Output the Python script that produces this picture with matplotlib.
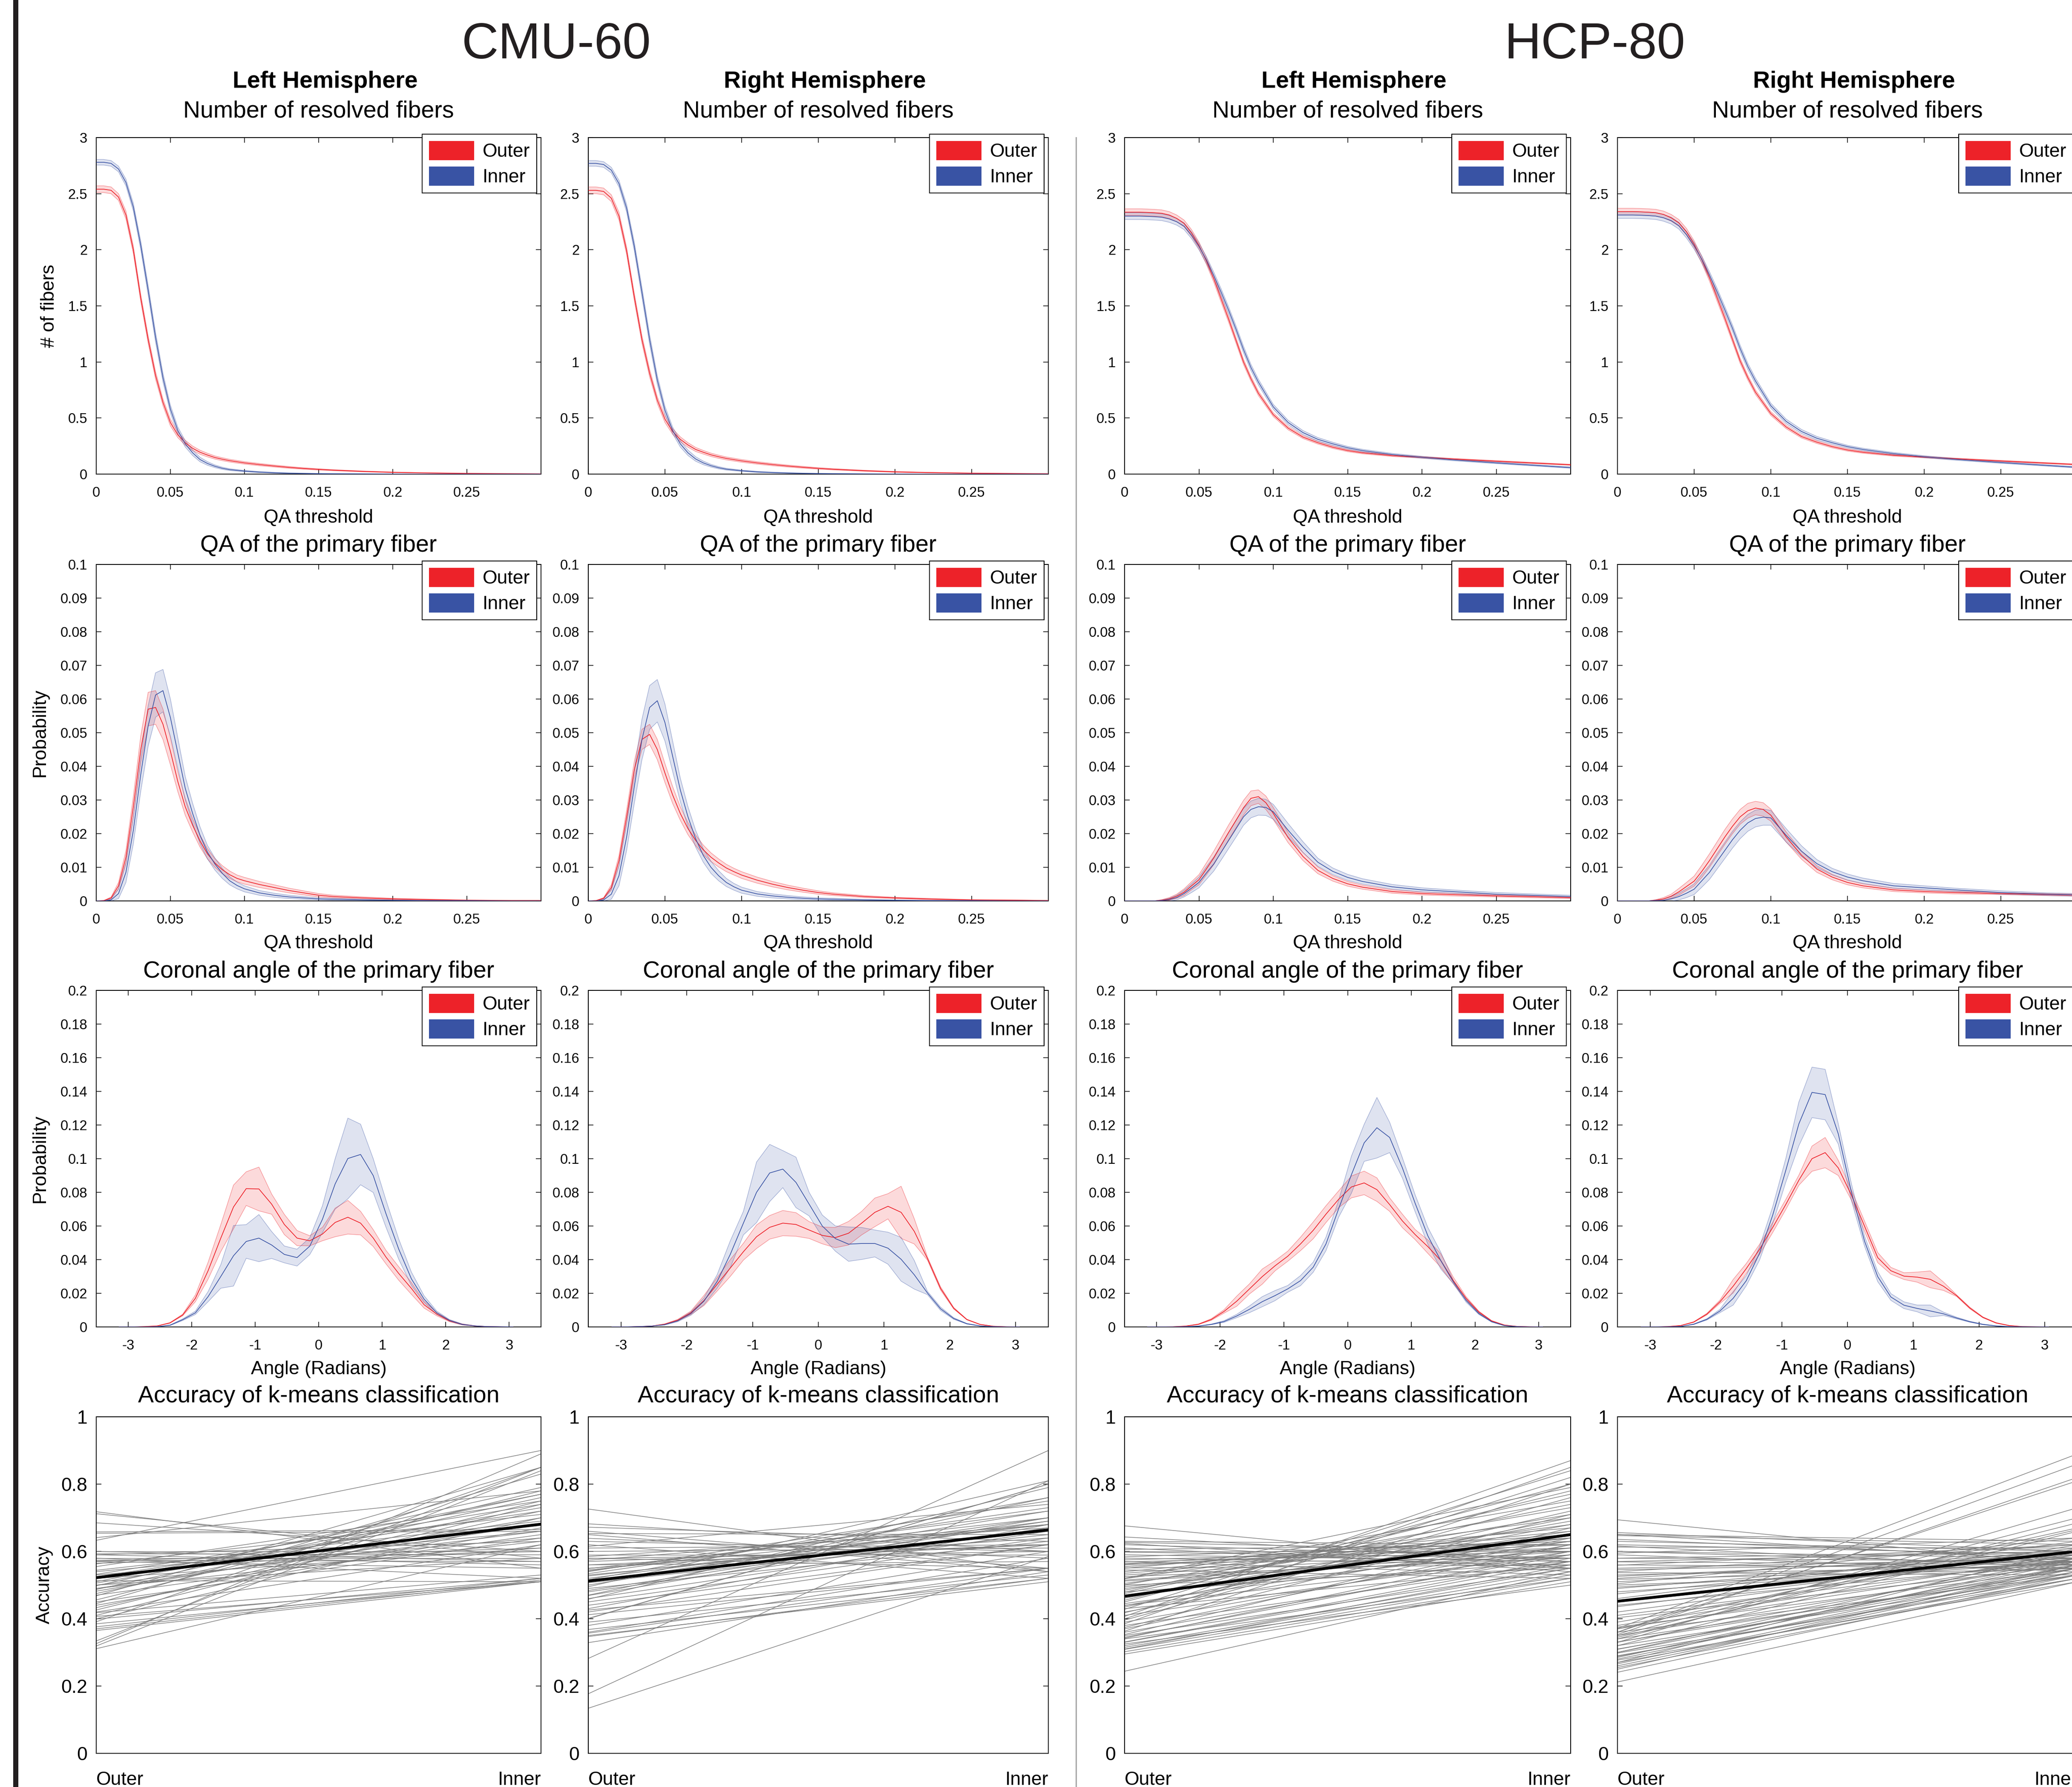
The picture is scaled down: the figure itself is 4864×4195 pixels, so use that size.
import numpy as np
import matplotlib
matplotlib.use('Agg')
import matplotlib.pyplot as plt
from matplotlib.patches import Patch, Rectangle
from matplotlib.lines import Line2D

plt.rcParams['font.family'] = ['Liberation Sans', 'DejaVu Sans']

# ======================= DATA =======================
group_titles = ['CMU-60', 'HCP-80']
hemisphere_titles = ['Left Hemisphere', 'Right Hemisphere', 'Left Hemisphere', 'Right Hemisphere']
legend_labels = ['Outer', 'Inner']
row_titles = ['Number of resolved fibers', 'QA of the primary fiber',
              'Coronal angle of the primary fiber', 'Accuracy of k-means classification']
x_labels = ['QA threshold', 'QA threshold', 'Angle (Radians)', None]
y_labels = ['# of fibers', 'Probability', 'Probability', 'Accuracy']
acc_categories = ['Outer', 'Inner']

qa_ticks = [0, 0.05, 0.1, 0.15, 0.2, 0.25]
angle_ticks = [-3, -2, -1, 0, 1, 2, 3]
nf_yticks = [0, 0.5, 1, 1.5, 2, 2.5, 3]
qa_yticks = [0, 0.01, 0.02, 0.03, 0.04, 0.05, 0.06, 0.07, 0.08, 0.09, 0.1]
ang_yticks = [0, 0.02, 0.04, 0.06, 0.08, 0.1, 0.12, 0.14, 0.16, 0.18, 0.2]
acc_yticks = [0, 0.2, 0.4, 0.6, 0.8, 1]

# ---- Row 1: number of resolved fibers vs QA threshold ----
nf_x = [0, 0.005, 0.01, 0.015, 0.02, 0.025, 0.03, 0.035, 0.04, 0.045, 0.05, 0.055, 0.06, 0.065,
        0.07, 0.075, 0.08, 0.085, 0.09, 0.1, 0.11, 0.12, 0.13, 0.14, 0.15, 0.16, 0.18, 0.2, 0.22, 0.25, 0.3]

nf_cmu_L_outer = [2.54, 2.54, 2.53, 2.47, 2.31, 2.0, 1.57, 1.2, 0.88, 0.64, 0.46, 0.35, 0.28, 0.23,
                  0.195, 0.17, 0.148, 0.133, 0.12, 0.10, 0.085, 0.072, 0.06, 0.05, 0.042, 0.035, 0.024, 0.016, 0.011, 0.006, 0.002]
nf_cmu_L_outer_sem = [0.03, 0.03, 0.03, 0.03, 0.035, 0.035, 0.035, 0.035, 0.035, 0.03, 0.03, 0.025, 0.022, 0.02,
                      0.018, 0.016, 0.014, 0.013, 0.012, 0.011, 0.01, 0.009, 0.008, 0.007, 0.006, 0.005, 0.004, 0.003, 0.002, 0.002, 0.001]
nf_cmu_L_inner = [2.78, 2.78, 2.77, 2.72, 2.6, 2.38, 2.04, 1.64, 1.22, 0.86, 0.58, 0.39, 0.27, 0.19,
                  0.13, 0.095, 0.07, 0.052, 0.04, 0.027, 0.018, 0.012, 0.008, 0.006, 0.004, 0.003, 0.002, 0.001, 0.0005, 0.0002, 0.0]
nf_cmu_L_inner_sem = [0.025, 0.025, 0.025, 0.025, 0.03, 0.035, 0.04, 0.045, 0.045, 0.04, 0.035, 0.03, 0.028, 0.024,
                      0.02, 0.016, 0.012, 0.01, 0.008, 0.006, 0.005, 0.004, 0.003, 0.002, 0.002, 0.001, 0.001, 0.0005, 0.0003, 0.0002, 0.0]

nf_cmu_R_outer = [2.53, 2.53, 2.52, 2.46, 2.3, 1.99, 1.58, 1.2, 0.9, 0.66, 0.49, 0.38, 0.31, 0.26,
                  0.22, 0.195, 0.172, 0.155, 0.14, 0.118, 0.1, 0.085, 0.072, 0.061, 0.051, 0.043, 0.03, 0.02, 0.014, 0.008, 0.003]
nf_cmu_R_outer_sem = [0.03, 0.03, 0.03, 0.03, 0.035, 0.035, 0.035, 0.035, 0.035, 0.03, 0.03, 0.025, 0.022, 0.02,
                      0.018, 0.016, 0.015, 0.014, 0.013, 0.012, 0.011, 0.01, 0.009, 0.008, 0.007, 0.006, 0.005, 0.004, 0.003, 0.002, 0.001]
nf_cmu_R_inner = [2.77, 2.77, 2.76, 2.71, 2.59, 2.37, 2.03, 1.62, 1.2, 0.84, 0.57, 0.39, 0.27, 0.19,
                  0.135, 0.1, 0.075, 0.057, 0.044, 0.03, 0.02, 0.014, 0.01, 0.007, 0.005, 0.004, 0.002, 0.001, 0.0005, 0.0002, 0.0]
nf_cmu_R_inner_sem = [0.025, 0.025, 0.025, 0.025, 0.03, 0.035, 0.04, 0.045, 0.045, 0.04, 0.035, 0.03, 0.028, 0.024,
                      0.02, 0.016, 0.012, 0.01, 0.008, 0.006, 0.005, 0.004, 0.003, 0.002, 0.002, 0.001, 0.001, 0.0005, 0.0003, 0.0002, 0.0]

nf_hcp_L_outer = [2.335, 2.335, 2.335, 2.333, 2.33, 2.325, 2.31, 2.28, 2.235, 2.15, 2.04, 1.9, 1.74, 1.56,
                  1.38, 1.19, 1.0, 0.85, 0.72, 0.53, 0.41, 0.33, 0.28, 0.24, 0.21, 0.19, 0.165, 0.15, 0.135, 0.115, 0.083]
nf_hcp_L_outer_sem = [0.03, 0.03, 0.03, 0.03, 0.03, 0.03, 0.03, 0.03, 0.03, 0.03, 0.03, 0.03, 0.03, 0.03,
                      0.028, 0.026, 0.024, 0.022, 0.02, 0.017, 0.015, 0.013, 0.012, 0.011, 0.01, 0.009, 0.008, 0.007, 0.006, 0.006, 0.005]
nf_hcp_L_inner = [2.3, 2.3, 2.3, 2.298, 2.295, 2.29, 2.275, 2.25, 2.21, 2.13, 2.03, 1.91, 1.77, 1.62,
                  1.46, 1.29, 1.11, 0.95, 0.82, 0.6, 0.46, 0.37, 0.31, 0.27, 0.235, 0.21, 0.175, 0.15, 0.128, 0.1, 0.058]
nf_hcp_L_inner_sem = [0.03, 0.03, 0.03, 0.03, 0.03, 0.03, 0.03, 0.03, 0.03, 0.03, 0.03, 0.03, 0.03, 0.03,
                      0.03, 0.03, 0.03, 0.028, 0.026, 0.022, 0.02, 0.018, 0.016, 0.014, 0.012, 0.011, 0.01, 0.009, 0.008, 0.007, 0.006]

nf_hcp_R_outer = [2.34, 2.34, 2.34, 2.338, 2.335, 2.33, 2.315, 2.285, 2.24, 2.16, 2.05, 1.91, 1.75, 1.57,
                  1.39, 1.2, 1.01, 0.86, 0.73, 0.54, 0.42, 0.335, 0.285, 0.245, 0.215, 0.195, 0.168, 0.152, 0.137, 0.117, 0.085]
nf_hcp_R_outer_sem = [0.03, 0.03, 0.03, 0.03, 0.03, 0.03, 0.03, 0.03, 0.03, 0.03, 0.03, 0.03, 0.03, 0.03,
                      0.028, 0.026, 0.024, 0.022, 0.02, 0.017, 0.015, 0.013, 0.012, 0.011, 0.01, 0.009, 0.008, 0.007, 0.006, 0.006, 0.005]
nf_hcp_R_inner = [2.31, 2.31, 2.31, 2.308, 2.305, 2.3, 2.285, 2.26, 2.215, 2.135, 2.035, 1.915, 1.775, 1.625,
                  1.465, 1.3, 1.12, 0.96, 0.83, 0.61, 0.47, 0.38, 0.32, 0.28, 0.245, 0.22, 0.183, 0.155, 0.132, 0.103, 0.06]
nf_hcp_R_inner_sem = [0.03, 0.03, 0.03, 0.03, 0.03, 0.03, 0.03, 0.03, 0.03, 0.03, 0.03, 0.03, 0.03, 0.03,
                      0.03, 0.03, 0.03, 0.028, 0.026, 0.022, 0.02, 0.018, 0.016, 0.014, 0.012, 0.011, 0.01, 0.009, 0.008, 0.007, 0.006]

# ---- Row 2: QA of the primary fiber ----
qa_x = [0, 0.005, 0.01, 0.015, 0.02, 0.025, 0.03, 0.035, 0.04, 0.045, 0.05, 0.055, 0.06, 0.065, 0.07,
        0.075, 0.08, 0.085, 0.09, 0.095, 0.1, 0.11, 0.12, 0.13, 0.14, 0.15, 0.16, 0.18, 0.2, 0.22, 0.25, 0.28, 0.3]

qa_cmu_L_outer = [0, 0.0001, 0.0009, 0.0045, 0.013, 0.028, 0.045, 0.057, 0.0575, 0.0525, 0.0445, 0.0355, 0.028, 0.0225, 0.0178,
                  0.014, 0.0113, 0.0093, 0.0078, 0.0067, 0.006, 0.0049, 0.004, 0.0031, 0.0024, 0.0017, 0.0013, 0.0009, 0.0006, 0.0004, 0.0002, 0.0001, 0.0001]
qa_cmu_L_outer_sem = [0, 0, 0.0003, 0.001, 0.002, 0.003, 0.004, 0.005, 0.005, 0.0045, 0.004, 0.003, 0.0025, 0.002, 0.0018,
                      0.0015, 0.0013, 0.0012, 0.0011, 0.001, 0.001, 0.0009, 0.0008, 0.0007, 0.0006, 0.0005, 0.0004, 0.0003, 0.0002, 0.0002, 0.0001, 0.0001, 0.0001]
qa_cmu_L_inner = [0, 0, 0.0003, 0.0022, 0.0085, 0.021, 0.0376, 0.052, 0.0612, 0.0625, 0.0545, 0.044, 0.0335, 0.026, 0.0195,
                  0.0145, 0.011, 0.0082, 0.006, 0.0046, 0.0036, 0.0024, 0.0017, 0.0012, 0.0009, 0.0006, 0.0005, 0.0003, 0.0002, 0.0001, 0.0001, 0, 0]
qa_cmu_L_inner_sem = [0, 0, 0.0003, 0.0015, 0.003, 0.004, 0.005, 0.006, 0.0066, 0.0063, 0.0055, 0.0045, 0.0035, 0.003, 0.0025,
                      0.002, 0.0018, 0.0015, 0.0012, 0.001, 0.0009, 0.0007, 0.0006, 0.0005, 0.0004, 0.0003, 0.0003, 0.0002, 0.0001, 0.0001, 0, 0, 0]

qa_cmu_R_outer = [0, 0.0001, 0.0008, 0.004, 0.012, 0.025, 0.039, 0.048, 0.0495, 0.045, 0.038, 0.0315, 0.026, 0.0215, 0.018,
                  0.0152, 0.013, 0.0113, 0.0098, 0.0087, 0.0077, 0.0062, 0.005, 0.004, 0.0032, 0.0025, 0.002, 0.0013, 0.0009, 0.0006, 0.0003, 0.0002, 0.0001]
qa_cmu_R_outer_sem = [0, 0, 0.0002, 0.0008, 0.0015, 0.002, 0.0025, 0.003, 0.003, 0.003, 0.0028, 0.0025, 0.002, 0.0018, 0.0016,
                      0.0014, 0.0013, 0.0012, 0.0011, 0.001, 0.001, 0.0009, 0.0008, 0.0007, 0.0006, 0.0005, 0.0004, 0.0003, 0.0002, 0.0002, 0.0001, 0.0001, 0.0001]
qa_cmu_R_inner = [0, 0, 0.0003, 0.002, 0.0075, 0.019, 0.034, 0.048, 0.0575, 0.0595, 0.053, 0.043, 0.033, 0.025, 0.0185,
                  0.0135, 0.01, 0.0075, 0.0055, 0.0042, 0.0032, 0.0021, 0.0015, 0.0011, 0.0008, 0.0006, 0.0005, 0.0003, 0.0002, 0.0001, 0.0001, 0, 0]
qa_cmu_R_inner_sem = [0, 0, 0.0003, 0.0015, 0.003, 0.004, 0.005, 0.006, 0.0065, 0.0063, 0.0055, 0.0045, 0.0035, 0.003, 0.0025,
                      0.002, 0.0018, 0.0015, 0.0012, 0.001, 0.0009, 0.0007, 0.0006, 0.0005, 0.0004, 0.0003, 0.0003, 0.0002, 0.0001, 0.0001, 0, 0, 0]

qa_hcp_L_outer = [0, 0, 0, 0, 0, 0.0002, 0.0006, 0.0014, 0.0026, 0.0045, 0.0063, 0.0095, 0.0128, 0.0166, 0.0204,
                  0.024, 0.0277, 0.0305, 0.031, 0.0292, 0.026, 0.0188, 0.0132, 0.0091, 0.0067, 0.0051, 0.0041, 0.0028, 0.0022, 0.0019, 0.0015, 0.0012, 0.001]
qa_hcp_L_outer_sem = [0, 0, 0, 0, 0, 0.0002, 0.0004, 0.0006, 0.001, 0.0012, 0.0015, 0.0018, 0.002, 0.0021, 0.0022,
                      0.0022, 0.0022, 0.0022, 0.002, 0.002, 0.0018, 0.0015, 0.0012, 0.001, 0.0008, 0.0007, 0.0006, 0.0005, 0.0004, 0.0004, 0.0003, 0.0003, 0.0003]
qa_hcp_L_inner = [0, 0, 0, 0, 0, 0.0001, 0.0004, 0.001, 0.0022, 0.0038, 0.0055, 0.0083, 0.011, 0.0145, 0.018,
                  0.0215, 0.025, 0.0272, 0.028, 0.0278, 0.0265, 0.021, 0.016, 0.0115, 0.0088, 0.007, 0.0058, 0.0042, 0.0033, 0.0028, 0.002, 0.0016, 0.0013]
qa_hcp_L_inner_sem = [0, 0, 0, 0, 0, 0.0002, 0.0004, 0.0007, 0.001, 0.0013, 0.0016, 0.0019, 0.0021, 0.0023, 0.0024,
                      0.0025, 0.0025, 0.0025, 0.0025, 0.0024, 0.0022, 0.002, 0.0016, 0.0012, 0.001, 0.0009, 0.0008, 0.0007, 0.0006, 0.0005, 0.0005, 0.0004, 0.0004]

qa_hcp_R_outer = [0, 0, 0, 0, 0, 0.0002, 0.0006, 0.0014, 0.0027, 0.0043, 0.0059, 0.0088, 0.012, 0.0155, 0.019,
                  0.0222, 0.025, 0.0268, 0.0276, 0.0272, 0.0255, 0.019, 0.0136, 0.0095, 0.0071, 0.0055, 0.0045, 0.0033, 0.0028, 0.0025, 0.0022, 0.0019, 0.0017]
qa_hcp_R_outer_sem = [0, 0, 0, 0, 0, 0.0002, 0.0004, 0.0006, 0.001, 0.0012, 0.0015, 0.0018, 0.002, 0.0021, 0.0022,
                      0.0022, 0.0022, 0.0022, 0.002, 0.002, 0.0018, 0.0015, 0.0012, 0.001, 0.0008, 0.0007, 0.0006, 0.0005, 0.0004, 0.0004, 0.0003, 0.0003, 0.0003]
qa_hcp_R_inner = [0, 0, 0, 0, 0, 0.0001, 0.0002, 0.0006, 0.0013, 0.0023, 0.0035, 0.006, 0.0085, 0.0118, 0.015,
                  0.0182, 0.021, 0.0232, 0.0245, 0.0249, 0.0247, 0.0195, 0.0148, 0.0111, 0.0087, 0.0071, 0.006, 0.0045, 0.0039, 0.0033, 0.0025, 0.002, 0.0018]
qa_hcp_R_inner_sem = [0, 0, 0, 0, 0, 0.0002, 0.0004, 0.0007, 0.001, 0.0013, 0.0016, 0.0019, 0.0021, 0.0023, 0.0024,
                      0.0025, 0.0025, 0.0025, 0.0025, 0.0024, 0.0022, 0.002, 0.0016, 0.0012, 0.001, 0.0009, 0.0008, 0.0007, 0.0006, 0.0005, 0.0005, 0.0004, 0.0004]

# ---- Row 3: coronal angle of the primary fiber ----
ang_x = [-3.14, -2.94, -2.74, -2.54, -2.34, -2.14, -1.94, -1.74, -1.54, -1.34, -1.14, -0.94, -0.74, -0.54, -0.34, -0.14,
         0.06, 0.26, 0.46, 0.66, 0.86, 1.06, 1.26, 1.46, 1.66, 1.86, 2.06, 2.26, 2.46, 2.66, 2.86, 3.06]

ang_cmu_L_outer = [0, 0, 0.0002, 0.0006, 0.0024, 0.0071, 0.017, 0.0334, 0.0528, 0.0713, 0.0822, 0.082, 0.073, 0.0609, 0.0528, 0.0512,
                   0.0552, 0.0621, 0.0652, 0.0617, 0.0528, 0.0415, 0.0318, 0.0229, 0.0132, 0.0076, 0.0036, 0.0015, 0.0006, 0.0002, 0.0001, 0]
ang_cmu_L_outer_sem = [0, 0, 0, 0, 0.0002, 0.0005, 0.002, 0.005, 0.008, 0.013, 0.01, 0.013, 0.006, 0.006, 0.0045, 0.003,
                       0.004, 0.0085, 0.01, 0.007, 0.005, 0.004, 0.004, 0.0035, 0.002, 0.001, 0.0005, 0.0003, 0.0001, 0, 0, 0]
ang_cmu_L_inner = [0, 0, 0, 0.0002, 0.001, 0.0043, 0.0084, 0.018, 0.030, 0.0423, 0.0508, 0.0528, 0.0487, 0.0431, 0.0412, 0.048,
                   0.064, 0.085, 0.1001, 0.1025, 0.0899, 0.0673, 0.0463, 0.0286, 0.0165, 0.0084, 0.0039, 0.0015, 0.0006, 0.0002, 0.0001, 0]
ang_cmu_L_inner_sem = [0, 0, 0, 0, 0.0002, 0.0005, 0.001, 0.003, 0.007, 0.018, 0.01, 0.014, 0.008, 0.005, 0.005, 0.005,
                       0.008, 0.015, 0.024, 0.018, 0.01, 0.008, 0.006, 0.004, 0.002, 0.001, 0.0005, 0.0003, 0.0001, 0, 0, 0]

ang_cmu_R_outer = [0, 0, 0.0002, 0.0005, 0.0016, 0.004, 0.0084, 0.0157, 0.0253, 0.035, 0.0447, 0.0536, 0.0592, 0.0617, 0.0609, 0.0576,
                   0.0544, 0.0531, 0.0557, 0.0617, 0.0681, 0.0717, 0.0681, 0.0568, 0.0407, 0.0229, 0.0111, 0.0044, 0.0015, 0.0004, 0.0001, 0]
ang_cmu_R_outer_sem = [0, 0, 0, 0, 0.0002, 0.0005, 0.001, 0.003, 0.004, 0.005, 0.005, 0.007, 0.007, 0.0075, 0.007, 0.005,
                       0.005, 0.006, 0.007, 0.007, 0.0085, 0.0075, 0.0155, 0.0075, 0.001, 0.001, 0.0005, 0.0002, 0.0001, 0, 0, 0]
ang_cmu_R_inner = [0, 0, 0.0002, 0.0005, 0.0013, 0.0036, 0.0079, 0.0153, 0.027, 0.0431, 0.0617, 0.08, 0.0915, 0.0938, 0.0859, 0.073,
                   0.06, 0.0525, 0.0492, 0.0496, 0.0496, 0.0468, 0.0402, 0.031, 0.0202, 0.0108, 0.005, 0.0019, 0.0006, 0.0002, 0, 0]
ang_cmu_R_inner_sem = [0, 0, 0, 0, 0.0002, 0.0005, 0.001, 0.002, 0.004, 0.008, 0.007, 0.018, 0.017, 0.011, 0.015, 0.007,
                       0.0065, 0.0075, 0.0102, 0.0095, 0.008, 0.0095, 0.013, 0.0085, 0.001, 0.001, 0.0005, 0.0002, 0.0001, 0, 0, 0]

ang_hcp_L_outer = [0, 0, 0.0001, 0.0005, 0.0016, 0.0044, 0.0092, 0.0153, 0.0226, 0.0299, 0.0363, 0.042, 0.0493, 0.0574, 0.067, 0.0759,
                   0.0832, 0.0856, 0.0816, 0.0727, 0.063, 0.0549, 0.0477, 0.0396, 0.0275, 0.017, 0.0089, 0.0036, 0.0011, 0.0003, 0.0001, 0]
ang_hcp_L_outer_sem = [0, 0, 0, 0, 0.0002, 0.0005, 0.001, 0.003, 0.003, 0.0045, 0.003, 0.003, 0.004, 0.005, 0.005, 0.005,
                       0.0065, 0.007, 0.007, 0.004, 0.004, 0.003, 0.004, 0.004, 0.002, 0.001, 0.0005, 0.0002, 0.0001, 0, 0, 0]
ang_hcp_L_inner = [0, 0, 0, 0.0002, 0.0005, 0.0015, 0.0032, 0.0065, 0.0105, 0.015, 0.0186, 0.0226, 0.0275, 0.0355, 0.0493, 0.0703,
                   0.0905, 0.1094, 0.1184, 0.1126, 0.0945, 0.0735, 0.0541, 0.0396, 0.0267, 0.0157, 0.0079, 0.0031, 0.0008, 0.0002, 0, 0]
ang_hcp_L_inner_sem = [0, 0, 0, 0, 0.0001, 0.0002, 0.0005, 0.001, 0.002, 0.003, 0.003, 0.002, 0.003, 0.003, 0.004, 0.005,
                       0.011, 0.011, 0.018, 0.009, 0.006, 0.005, 0.005, 0.005, 0.001, 0.001, 0.0005, 0.0002, 0.0001, 0, 0, 0]

ang_hcp_R_outer = [0, 0, 0.0002, 0.0008, 0.0029, 0.0076, 0.015, 0.0242, 0.0347, 0.046, 0.059, 0.0727, 0.0872, 0.1, 0.1036, 0.0945,
                   0.0783, 0.0598, 0.0412, 0.0334, 0.0302, 0.0296, 0.0283, 0.0242, 0.0186, 0.0113, 0.0057, 0.0024, 0.0008, 0.0002, 0.0001, 0]
ang_hcp_R_outer_sem = [0, 0, 0, 0, 0.0002, 0.0005, 0.001, 0.004, 0.003, 0.003, 0.003, 0.003, 0.003, 0.0075, 0.009, 0.0045,
                       0.003, 0.003, 0.003, 0.002, 0.002, 0.003, 0.005, 0.0025, 0.0005, 0.0005, 0.0003, 0.0002, 0.0001, 0, 0, 0]
ang_hcp_R_inner = [0, 0, 0.0001, 0.0003, 0.0016, 0.0045, 0.0095, 0.017, 0.0275, 0.0436, 0.0662, 0.0929, 0.1207, 0.1394, 0.1381, 0.1147,
                   0.08, 0.0509, 0.0299, 0.0178, 0.0129, 0.011, 0.0095, 0.0078, 0.0053, 0.0031, 0.0015, 0.0006, 0.0002, 0.0001, 0, 0]
ang_hcp_R_inner_sem = [0, 0, 0, 0, 0.0002, 0.0004, 0.001, 0.004, 0.003, 0.004, 0.005, 0.007, 0.013, 0.015, 0.015, 0.006,
                       0.005, 0.003, 0.003, 0.002, 0.002, 0.002, 0.0035, 0.001, 0.0005, 0.0003, 0.0002, 0.0001, 0, 0, 0, 0]

# ---- Row 4: per-subject accuracy of k-means classification (outer, inner) ----
acc_cmu_L_outer = [0.718, 0.712, 0.685, 0.658, 0.654, 0.641, 0.633, 0.60, 0.593, 0.59, 0.58, 0.574, 0.571, 0.563, 0.555,
                   0.544, 0.532, 0.525, 0.513, 0.51, 0.506, 0.50, 0.498, 0.49, 0.487, 0.482, 0.475, 0.47, 0.468, 0.456,
                   0.45, 0.445, 0.44, 0.433, 0.426, 0.42, 0.418, 0.41, 0.407, 0.40, 0.399, 0.391, 0.385, 0.376, 0.37,
                   0.365, 0.334, 0.326, 0.319, 0.311, 0.58, 0.59, 0.57, 0.60, 0.565, 0.52, 0.50, 0.54, 0.53, 0.49]
acc_cmu_L_inner = [0.55, 0.58, 0.60, 0.665, 0.66, 0.78, 0.90, 0.57, 0.59, 0.63, 0.52, 0.57, 0.61, 0.71, 0.75,
                   0.69, 0.74, 0.72, 0.51, 0.77, 0.73, 0.66, 0.79, 0.68, 0.77, 0.70, 0.76, 0.65, 0.85, 0.78,
                   0.64, 0.83, 0.67, 0.72, 0.75, 0.62, 0.53, 0.74, 0.51, 0.70, 0.52, 0.85, 0.51, 0.52, 0.515,
                   0.51, 0.85, 0.89, 0.84, 0.62, 0.58, 0.56, 0.55, 0.60, 0.60, 0.61, 0.58, 0.66, 0.64, 0.63]
acc_cmu_L_mean = [0.522, 0.681]

acc_cmu_R_outer = [0.726, 0.682, 0.672, 0.653, 0.639, 0.615, 0.579, 0.574, 0.56, 0.549, 0.542, 0.534, 0.527, 0.516, 0.507,
                   0.495, 0.484, 0.469, 0.458, 0.44, 0.426, 0.412, 0.401, 0.39, 0.368, 0.357, 0.347, 0.329, 0.282, 0.177,
                   0.134, 0.66, 0.65, 0.63, 0.62, 0.60, 0.585, 0.58, 0.57, 0.55, 0.54, 0.53, 0.52, 0.50, 0.49,
                   0.48, 0.47, 0.46, 0.45, 0.43, 0.42, 0.40, 0.38, 0.36, 0.35, 0.56, 0.59, 0.61, 0.545, 0.51]
acc_cmu_R_inner = [0.54, 0.60, 0.63, 0.65, 0.58, 0.74, 0.60, 0.68, 0.62, 0.70, 0.72, 0.73, 0.68, 0.76, 0.65,
                   0.81, 0.69, 0.70, 0.79, 0.62, 0.55, 0.55, 0.80, 0.53, 0.52, 0.55, 0.52, 0.54, 0.90, 0.81,
                   0.585, 0.55, 0.54, 0.60, 0.52, 0.61, 0.67, 0.55, 0.62, 0.64, 0.75, 0.66, 0.69, 0.72, 0.63,
                   0.67, 0.76, 0.66, 0.64, 0.68, 0.62, 0.80, 0.60, 0.58, 0.51, 0.57, 0.59, 0.62, 0.68, 0.70]
acc_cmu_R_mean = [0.512, 0.664]

acc_hcp_L_outer = [0.676, 0.643, 0.627, 0.624, 0.606, 0.598, 0.584, 0.569, 0.562, 0.551, 0.54, 0.53, 0.519, 0.512, 0.501,
                   0.49, 0.479, 0.461, 0.45, 0.439, 0.428, 0.418, 0.407, 0.396, 0.385, 0.374, 0.363, 0.353, 0.342, 0.331,
                   0.32, 0.309, 0.302, 0.295, 0.244,
                   0.58, 0.57, 0.56, 0.55, 0.545, 0.535, 0.525, 0.52, 0.515, 0.505, 0.50, 0.495, 0.485, 0.48, 0.475,
                   0.47, 0.465, 0.455, 0.445, 0.44, 0.435, 0.43, 0.42, 0.41, 0.40, 0.39, 0.38, 0.37, 0.36, 0.35,
                   0.345, 0.34, 0.33, 0.325, 0.315, 0.31, 0.60, 0.59, 0.575, 0.565, 0.555, 0.62, 0.63, 0.61, 0.52]
acc_hcp_L_inner = [0.55, 0.57, 0.60, 0.54, 0.62, 0.58, 0.63, 0.60, 0.65, 0.56, 0.66, 0.61, 0.70, 0.59, 0.73,
                   0.64, 0.77, 0.69, 0.80, 0.68, 0.84, 0.72, 0.87, 0.76, 0.85, 0.71, 0.80, 0.67, 0.62, 0.58,
                   0.55, 0.53, 0.52, 0.51, 0.54,
                   0.56, 0.53, 0.62, 0.67, 0.52, 0.64, 0.58, 0.75, 0.60, 0.68, 0.55, 0.63, 0.71, 0.57, 0.74,
                   0.61, 0.66, 0.78, 0.63, 0.59, 0.70, 0.56, 0.65, 0.60, 0.82, 0.62, 0.57, 0.64, 0.59, 0.55,
                   0.60, 0.52, 0.57, 0.50, 0.54, 0.56, 0.60, 0.57, 0.61, 0.58, 0.64, 0.58, 0.62, 0.55, 0.79]
acc_hcp_L_mean = [0.467, 0.65]

acc_hcp_R_outer = [0.694, 0.656, 0.651, 0.647, 0.636, 0.616, 0.613, 0.60, 0.59, 0.58, 0.569, 0.559, 0.546, 0.537, 0.526,
                   0.517, 0.504, 0.494, 0.474, 0.436, 0.403,
                   0.371, 0.36, 0.353, 0.36, 0.33, 0.35, 0.34, 0.37, 0.32,
                   0.331, 0.32, 0.309, 0.298, 0.288, 0.277, 0.266, 0.255, 0.241, 0.212, 0.35, 0.34, 0.33, 0.31, 0.30,
                   0.29, 0.28, 0.27, 0.26, 0.25, 0.36, 0.37, 0.375, 0.30, 0.285, 0.27,
                   0.62, 0.60, 0.58, 0.57, 0.56, 0.55, 0.54, 0.53, 0.52, 0.51, 0.50, 0.49, 0.48, 0.46, 0.45,
                   0.44, 0.42, 0.41, 0.39, 0.38, 0.65, 0.63, 0.595, 0.345]
acc_hcp_R_inner = [0.56, 0.60, 0.57, 0.62, 0.58, 0.55, 0.61, 0.58, 0.54, 0.60, 0.56, 0.62, 0.57, 0.53, 0.59,
                   0.55, 0.64, 0.57, 0.61, 0.60, 0.56,
                   0.89, 0.86, 0.82, 0.81, 0.73, 0.70, 0.685, 0.67, 0.66,
                   0.55, 0.53, 0.56, 0.52, 0.54, 0.51, 0.55, 0.52, 0.53, 0.51, 0.57, 0.54, 0.58, 0.55, 0.57,
                   0.53, 0.56, 0.52, 0.54, 0.56, 0.53, 0.58, 0.55, 0.60, 0.58, 0.61,
                   0.59, 0.56, 0.57, 0.60, 0.55, 0.58, 0.62, 0.56, 0.60, 0.58, 0.55, 0.60, 0.57, 0.63, 0.59,
                   0.57, 0.60, 0.58, 0.62, 0.59, 0.63, 0.60, 0.64, 0.665]
acc_hcp_R_mean = [0.452, 0.60]

# ======================= LAYOUT / STYLE =======================
W, H, DPI = 4864, 4195, 100
RED = '#ED1C24'
BLUE = '#3953A4'
PATCH_RED = '#ED2229'
PATCH_BLUE = '#3953A4'

col_left_px = [226, 1381, 2640, 3797]
col_width_px = [1044, 1080, 1047, 1080]
row_top_px = [323, 1325, 2325, 3326]
ax_h_px = 790

fig = plt.figure(figsize=(W / DPI, H / DPI), dpi=DPI)
fig.patch.set_facecolor('white')

axes = [[None] * 4 for _ in range(4)]
for r in range(4):
    for c in range(4):
        l = col_left_px[c] / W
        b = 1 - (row_top_px[r] + ax_h_px) / H
        axes[r][c] = fig.add_axes([l, b, col_width_px[c] / W, ax_h_px / H])

TICK_FS = 23.5
LABEL_FS = 32
TITLE_FS = 40


def fmt(v):
    return f'{v:g}'


def style_axes(ax, fs=TICK_FS):
    for s in ax.spines.values():
        s.set_linewidth(1.4)
        s.set_color('black')
    ax.tick_params(direction='in', length=8.6, width=1.1, top=True, right=True,
                   labelsize=fs, colors='black')
    ax.tick_params(axis='x', pad=21)
    ax.tick_params(axis='y', pad=15)


def band(ax, x, m, s, color):
    x = np.asarray(x, float)
    m = np.asarray(m, float)
    s = np.asarray(s, float)
    ax.fill_between(x, m - s, m + s, facecolor=color, alpha=0.16, lw=0, zorder=2)
    ax.plot(x, m - s, color=color, lw=0.9, alpha=0.45, zorder=3)
    ax.plot(x, m + s, color=color, lw=0.9, alpha=0.45, zorder=3)
    ax.plot(x, m, color=color, lw=1.2, zorder=4)


def add_legend(ax, c):
    handles = [Patch(facecolor=PATCH_RED, edgecolor='none'), Patch(facecolor=PATCH_BLUE, edgecolor='none')]
    wpx = col_width_px[c]
    leg = ax.legend(handles, legend_labels, loc='upper right',
                    bbox_to_anchor=(1 - 10 / wpx, 1 + 8 / ax_h_px), borderaxespad=0,
                    fontsize=32, frameon=True, fancybox=False, edgecolor='black', framealpha=1,
                    handlelength=2.4, handleheight=1.2, handletextpad=0.45, borderpad=0.35,
                    labelspacing=0.3)
    leg.get_frame().set_linewidth(1.4)
    leg.set_zorder(10)


nf_data = [(nf_cmu_L_outer, nf_cmu_L_outer_sem, nf_cmu_L_inner, nf_cmu_L_inner_sem),
           (nf_cmu_R_outer, nf_cmu_R_outer_sem, nf_cmu_R_inner, nf_cmu_R_inner_sem),
           (nf_hcp_L_outer, nf_hcp_L_outer_sem, nf_hcp_L_inner, nf_hcp_L_inner_sem),
           (nf_hcp_R_outer, nf_hcp_R_outer_sem, nf_hcp_R_inner, nf_hcp_R_inner_sem)]
qa_data = [(qa_cmu_L_outer, qa_cmu_L_outer_sem, qa_cmu_L_inner, qa_cmu_L_inner_sem),
           (qa_cmu_R_outer, qa_cmu_R_outer_sem, qa_cmu_R_inner, qa_cmu_R_inner_sem),
           (qa_hcp_L_outer, qa_hcp_L_outer_sem, qa_hcp_L_inner, qa_hcp_L_inner_sem),
           (qa_hcp_R_outer, qa_hcp_R_outer_sem, qa_hcp_R_inner, qa_hcp_R_inner_sem)]
ang_data = [(ang_cmu_L_outer, ang_cmu_L_outer_sem, ang_cmu_L_inner, ang_cmu_L_inner_sem),
            (ang_cmu_R_outer, ang_cmu_R_outer_sem, ang_cmu_R_inner, ang_cmu_R_inner_sem),
            (ang_hcp_L_outer, ang_hcp_L_outer_sem, ang_hcp_L_inner, ang_hcp_L_inner_sem),
            (ang_hcp_R_outer, ang_hcp_R_outer_sem, ang_hcp_R_inner, ang_hcp_R_inner_sem)]
acc_data = [(acc_cmu_L_outer, acc_cmu_L_inner, acc_cmu_L_mean),
            (acc_cmu_R_outer, acc_cmu_R_inner, acc_cmu_R_mean),
            (acc_hcp_L_outer, acc_hcp_L_inner, acc_hcp_L_mean),
            (acc_hcp_R_outer, acc_hcp_R_inner, acc_hcp_R_mean)]

row_specs = [
    (nf_x, nf_data, (0, 0.3), qa_ticks, (0, 3), nf_yticks),
    (qa_x, qa_data, (0, 0.3), qa_ticks, (0, 0.1), qa_yticks),
    (ang_x, ang_data, (-3.5, 3.5), angle_ticks, (0, 0.2), ang_yticks),
]

ylabel_x = [-0.106, -0.127, -0.127, -0.116]
xlabel_off_px = [114, 111, 111]
title_off_px = [48, 30, 30, 34]

for r, (xs, data, xlim, xt, ylim, yt) in enumerate(row_specs):
    for c in range(4):
        ax = axes[r][c]
        mo, so, mi, si = data[c]
        band(ax, xs, mo, so, RED)
        band(ax, xs, mi, si, BLUE)
        ax.set_xlim(*xlim)
        ax.set_ylim(*ylim)
        ax.set_xticks(xt)
        ax.set_xticklabels([fmt(v) for v in xt])
        ax.set_yticks(yt)
        ax.set_yticklabels([fmt(v) for v in yt])
        style_axes(ax)
        add_legend(ax, c)
        ax.text(0.5, -xlabel_off_px[r] / ax_h_px, x_labels[r], transform=ax.transAxes,
                ha='center', va='baseline', fontsize=LABEL_FS)
        ax.text(0.5, 1 + title_off_px[r] / ax_h_px, row_titles[r], transform=ax.transAxes,
                ha='center', va='baseline', fontsize=TITLE_FS)
        if r == 0:
            ax.text(0.5 + 15 / col_width_px[c], 1 + (323 - 206) / ax_h_px, hemisphere_titles[c],
                    transform=ax.transAxes, ha='center', va='baseline', fontsize=TITLE_FS,
                    fontweight='bold')
        if c == 0:
            ax.text(ylabel_x[r], 0.5, y_labels[r], transform=ax.transAxes, rotation=90,
                    ha='center', va='center', fontsize=LABEL_FS)

# accuracy row
for c in range(4):
    ax = axes[3][c]
    outer, inner, mean = acc_data[c]
    for o, i in zip(outer, inner):
        ax.plot([0, 1], [o, i], color='#7d7d7d', lw=1.05, zorder=2)
    ax.plot([0, 1], mean, color='black', lw=4.8, zorder=5, solid_capstyle='butt')
    ax.set_xlim(0, 1)
    ax.set_ylim(0, 1)
    ax.set_yticks(acc_yticks)
    ax.set_yticklabels([fmt(v) for v in acc_yticks])
    ax.set_xticks([0, 1])
    ax.set_xticklabels(acc_categories)
    style_axes(ax, fs=32)
    ax.tick_params(axis='x', length=0, top=False, pad=30)
    labs = ax.get_xticklabels()
    labs[0].set_horizontalalignment('left')
    labs[1].set_horizontalalignment('right')
    ax.text(0.5, 1 + title_off_px[3] / ax_h_px, row_titles[3], transform=ax.transAxes,
            ha='center', va='baseline', fontsize=TITLE_FS)
    if c == 0:
        ax.text(ylabel_x[3], 0.5, y_labels[3], transform=ax.transAxes, rotation=90,
                ha='center', va='center', fontsize=LABEL_FS)

# group titles
fig.text(1306 / W, 1 - 137 / H, group_titles[0], ha='center', va='baseline', fontsize=86, color='#231f20')
fig.text(3744 / W, 1 - 137 / H, group_titles[1], ha='center', va='baseline', fontsize=86, color='#231f20')

# left black bar and separator
fig.add_artist(Rectangle((31 / W, 0), 12 / W, 1, transform=fig.transFigure,
                         facecolor='#231f20', edgecolor='none'))
fig.add_artist(Line2D([2526 / W, 2526 / W], [0, 1 - 323 / H], transform=fig.transFigure,
                      color='#a8a8a8', lw=2.2))

fig.savefig('out.png', dpi=DPI, facecolor='white')
